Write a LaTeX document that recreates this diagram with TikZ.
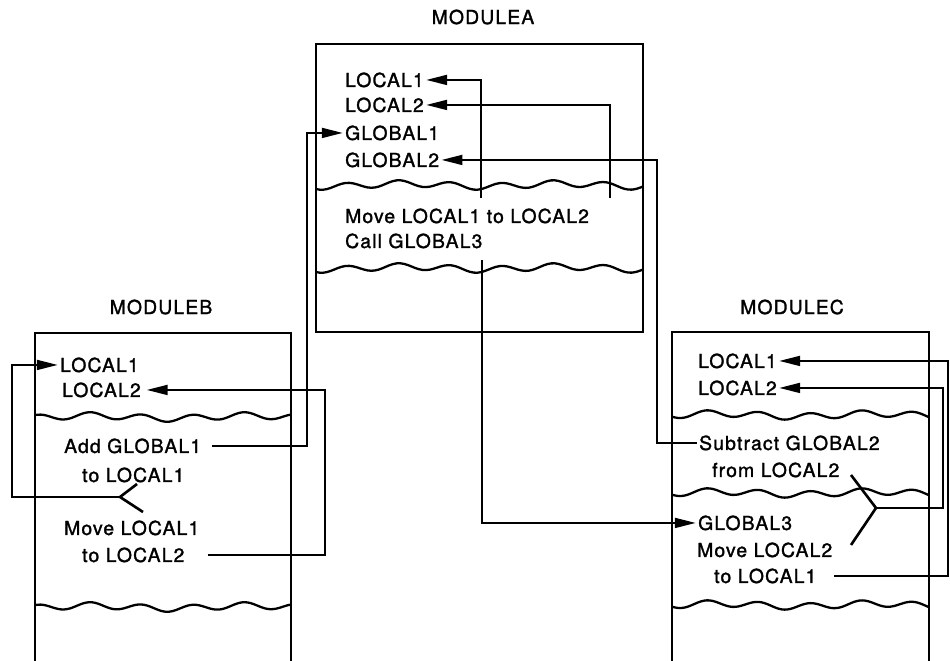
\documentclass[tikz,border=0pt]{standalone}
\usepackage{fontspec}
\setmainfont[LetterSpace=6,FakeBold=1.5]{TeX Gyre Heros}
\usetikzlibrary{arrows.meta}

\newcommand\wavyline[3]{%
  \draw[wave] plot[domain=#1:#2,samples=90,smooth] (\x,{#3+3.2*sin(7*\x)+1.6*sin(2.3*\x+60)});}

\begin{document}
\begin{tikzpicture}[x=0.02cm,y=-0.02cm,line width=1.5pt,
    font=\fontsize{11}{13}\selectfont,
    txt/.style={anchor=base west,inner sep=0.5pt},
    conn/.style={-{Triangle[length=12pt,width=5.5pt]},line join=miter},
    wave/.style={line width=1.3pt}]
        \useasboundingbox (0,0) rectangle (950,661);
        % MODULEA
        \node (labA) at (483,17) {MODULEA};
        \draw (316,44) rectangle (643,332);
        \node[txt] (aL1) at (343,87) {LOCAL1};
        \node[txt] (aL2) at (343,112) {LOCAL2};
        \node[txt] (aG1) at (343,140) {GLOBAL1};
        \node[txt] (aG2) at (343,167) {GLOBAL2};
        \node[txt] (aMove) at (343,223) {Move LOCAL1 to LOCAL2};
        \node[txt] (aCall) at (343,248) {Call GLOBAL3};
        \wavyline{316}{643}{185}
        \wavyline{316}{643}{268}
        % MODULEB
        \node (labB) at (161,307) {MODULEB};
        \draw (35,661) |- (291,333) -- (291,661);
        \node[txt] (bL1) at (58,372) {LOCAL1};
        \node[txt] (bL2) at (60,397) {LOCAL2};
        \node[txt] (bAdd) at (62,453) {Add GLOBAL1};
        \node[txt] (bTo1) at (80,482) {to LOCAL1};
        \node[txt] (bMove) at (62,535) {Move LOCAL1};
        \node[txt] (bTo2) at (80,562) {to LOCAL2};
        \wavyline{35}{291}{417}
        \wavyline{35}{291}{607}
        % MODULEC
        \node (labC) at (792,307) {MODULEC};
        \draw (672,661) |- (929,332) -- (929,661);
        \node[txt] (cL1) at (696,368) {LOCAL1};
        \node[txt] (cL2) at (696,395) {LOCAL2};
        \node[txt] (cSub) at (697,450) {Subtract GLOBAL2};
        \node[txt] (cFrom) at (710,477) {from LOCAL2};
        \node[txt] (cG3) at (696,530) {GLOBAL3};
        \node[txt] (cMove) at (695,557) {Move LOCAL2};
        \node[txt] (cTo1) at (712,583) {to LOCAL1};
        \wavyline{672}{929}{415}
        \wavyline{672}{929}{493}
        \wavyline{672}{929}{605}
        % free ends and bus columns
        \coordinate (aSrc1) at (481,198);
        \coordinate (aSrc2) at (610,198);
        \coordinate (aSrc3) at (482,260);
        \coordinate (colG1) at (307,0);
        \coordinate (colG2) at (657,0);
        \coordinate (colB1) at (12,0);
        \coordinate (colB2) at (325,0);
        \coordinate (colC1) at (948,0);
        \coordinate (colC2) at (943,0);
        \coordinate (bFork) at (120,497);
        \coordinate (bForkUp) at (137,484);
        \coordinate (bForkDn) at (143,512);
        \coordinate (cFork) at (876,508);
        \coordinate (cForkUp) at (851,475);
        \coordinate (cForkDn) at (851,545);
        % connectors
        \draw[conn] (aSrc1) |- (aL1.east);
        \draw[conn] (aSrc2) |- (aL2.east);
        \draw[conn,shorten <=5pt] (bAdd.east) -| (colG1 |- aG1.west) -- (aG1.west);
        \draw[conn] (cSub.west) -| (colG2 |- aG2.east) -- (aG2.east);
        \draw[conn] (aSrc3) |- (cG3.west);
        \draw (bForkUp) -- (bFork) -- (bForkDn);
        \draw[conn] (bFork) -| (colB1 |- bL1.west) -- (bL1.west);
        \draw[conn,shorten <=12pt,shorten >=2pt] (bTo2.east) -| (colB2 |- bL2.east) -- (bL2.east);
        \draw (cForkUp) -- (cFork) -- (cForkDn);
        \draw[conn] (cFork) -| (colC2 |- cL2.east) -- (cL2.east);
        \draw[conn,shorten <=9pt] (cTo1.east) -| (colC1 |- cL1.east) -- (cL1.east);
    \end{tikzpicture}
\end{document}
